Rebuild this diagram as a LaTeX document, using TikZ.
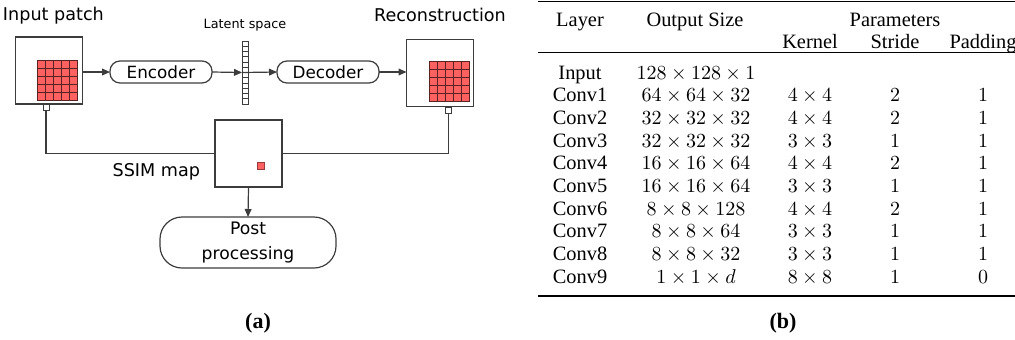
\documentclass[tikz,border=0pt]{standalone}
\usepackage[no-math]{fontspec}
\setmainfont{Liberation Serif}
\newfontfamily\diagfont{DejaVu Sans}
\usetikzlibrary{arrows.meta,calc}
\definecolor{patchred}{RGB}{255,96,96}
\definecolor{linegray}{RGB}{60,60,60}

\begin{document}
\begin{tikzpicture}[x=0.5pt,y=-0.5pt,
  every node/.style={inner sep=0pt, outer sep=0pt},
  box/.style={draw=linegray, line width=0.6pt, fill=white, minimum size=33.5pt},
  redgrid/.style={draw=patchred!35!black, fill=patchred, line width=0.4pt, minimum size=20pt},
  tab/.style={draw=linegray, line width=0.5pt, fill=white, minimum size=3pt},
  coder/.style={draw=linegray, line width=0.6pt, rounded corners=5pt, minimum width=51pt, minimum height=11pt, font=\diagfont\fontsize{8.4}{10}\selectfont},
  arr/.style={draw=linegray, line width=0.6pt, -{Triangle[length=4pt,width=3.4pt]}},
  wire/.style={draw=linegray, line width=0.6pt},
  title/.style={font=\diagfont\fontsize{8.8}{10}\selectfont},
  cell/.style={anchor=base, font=\fontsize{10.2}{12}\selectfont},
  ]
\useasboundingbox (0,0) rectangle (1015,339);

% (a) autoencoder
\node[title, anchor=west] (tin) at (3,16) {Input patch};
\node[title] (trec) at (440,15) {Reconstruction};
\node[font=\diagfont\fontsize{6.4}{7}\selectfont] (tlat) at (245,25) {Latent space};

\node[tab] (itab) at (46,107) {};
\node[tab] (rtab) at (448.5,110) {};
\node[box] (inp) at (49,70.5) {};
\node[box] (rec) at (440,73) {};
\node[redgrid] (igrid) at (57,80) {};
\node[redgrid] (rgrid) at (449,81.7) {};
\draw[patchred!35!black, line width=0.4pt, shift={(igrid.south west)}] (0pt,0pt) grid[step=4pt] (20pt,20pt);
\draw[patchred!35!black, line width=0.4pt, shift={(rgrid.south west)}] (0pt,0pt) grid[step=4pt] (20pt,20pt);

\node[coder] (enc) at (161,72) {Encoder};
\node[coder] (dec) at (328,72) {Decoder};
\node[draw=linegray, line width=0.5pt, fill=white, minimum width=3pt, minimum height=31.5pt] (lat) at (245,72.5) {};
\foreach \i in {1,...,11}
  \draw[linegray, line width=0.4pt] ($(lat.north west)!\i/12!(lat.south west)$) -- ($(lat.north east)!\i/12!(lat.south east)$);

\draw[arr] (inp.east |- enc.west) -- (enc.west);
\draw[arr] (enc.east) -- (lat.west);
\draw[arr] (lat.west) -- (dec.west);
\draw[arr] (dec.east) -- (rec.west |- dec.east);

\node[box] (ssim) at (248.5,153.5) {};
\node[draw=patchred!60!black, line width=0.3pt, fill=patchred, minimum size=3.5pt] (sdot) at (260.5,165.5) {};
\node[title, anchor=east] (tssim) at (200,172) {SSIM map};
\draw[wire] (itab.south) |- (ssim.west);
\draw[wire] (rtab.south) |- (ssim.east);

\node[draw=linegray, line width=0.6pt, rounded corners=11pt, minimum width=88pt, minimum height=25.5pt, align=center, font=\diagfont\fontsize{8.6}{12.5}\selectfont] (post) at (248,242.5) {Post\\processing};
\draw[arr] (ssim.south) -- (post.north);

\node[font=\bfseries\fontsize{11}{13}\selectfont] (capa) at (258,323) {(a)};

% (b) network table
\draw[line width=0.9pt] (538,1.5) -- (1015,1.5);
\draw[line width=0.5pt] (538,52) -- (1015,52);
\draw[line width=0.9pt] (538,296) -- (1015,296);

\node[cell] (hlay) at (580,26) {Layer};
\node[cell] (hout) at (695,26) {Output Size};
\node[cell] (hpar) at (895,26) {Parameters};
\node[cell] (hker) at (810,48) {Kernel};
\node[cell] (hstr) at (895,48) {Stride};
\node[cell] (hpad) at (983,48) {Padding};

\node[cell] (lay0) at (580,79) {Input};
\node[cell] (out0) at (696,79) {$128\times128\times1$};

\node[cell] (lay1) at (580,101.7) {Conv1};
\node[cell] (out1) at (696,101.7) {$64\times64\times32$};
\node[cell] (ker1) at (810,101.7) {$4\times4$};
\node[cell] (str1) at (895,101.7) {$2$};
\node[cell] (pad1) at (983,101.7) {$1$};

\node[cell] (lay2) at (580,124.4) {Conv2};
\node[cell] (out2) at (696,124.4) {$32\times32\times32$};
\node[cell] (ker2) at (810,124.4) {$4\times4$};
\node[cell] (str2) at (895,124.4) {$2$};
\node[cell] (pad2) at (983,124.4) {$1$};

\node[cell] (lay3) at (580,147.1) {Conv3};
\node[cell] (out3) at (696,147.1) {$32\times32\times32$};
\node[cell] (ker3) at (810,147.1) {$3\times3$};
\node[cell] (str3) at (895,147.1) {$1$};
\node[cell] (pad3) at (983,147.1) {$1$};

\node[cell] (lay4) at (580,169.8) {Conv4};
\node[cell] (out4) at (696,169.8) {$16\times16\times64$};
\node[cell] (ker4) at (810,169.8) {$4\times4$};
\node[cell] (str4) at (895,169.8) {$2$};
\node[cell] (pad4) at (983,169.8) {$1$};

\node[cell] (lay5) at (580,192.5) {Conv5};
\node[cell] (out5) at (696,192.5) {$16\times16\times64$};
\node[cell] (ker5) at (810,192.5) {$3\times3$};
\node[cell] (str5) at (895,192.5) {$1$};
\node[cell] (pad5) at (983,192.5) {$1$};

\node[cell] (lay6) at (580,215.2) {Conv6};
\node[cell] (out6) at (696,215.2) {$8\times8\times128$};
\node[cell] (ker6) at (810,215.2) {$4\times4$};
\node[cell] (str6) at (895,215.2) {$2$};
\node[cell] (pad6) at (983,215.2) {$1$};

\node[cell] (lay7) at (580,237.9) {Conv7};
\node[cell] (out7) at (696,237.9) {$8\times8\times64$};
\node[cell] (ker7) at (810,237.9) {$3\times3$};
\node[cell] (str7) at (895,237.9) {$1$};
\node[cell] (pad7) at (983,237.9) {$1$};

\node[cell] (lay8) at (580,260.6) {Conv8};
\node[cell] (out8) at (696,260.6) {$8\times8\times32$};
\node[cell] (ker8) at (810,260.6) {$3\times3$};
\node[cell] (str8) at (895,260.6) {$1$};
\node[cell] (pad8) at (983,260.6) {$1$};

\node[cell] (lay9) at (580,283.3) {Conv9};
\node[cell] (out9) at (696,283.3) {$1\times1\times d$};
\node[cell] (ker9) at (810,283.3) {$8\times8$};
\node[cell] (str9) at (895,283.3) {$1$};
\node[cell] (pad9) at (983,283.3) {$0$};

\node[font=\bfseries\fontsize{11}{13}\selectfont] (capb) at (783,323) {(b)};

\end{tikzpicture}
\end{document}
